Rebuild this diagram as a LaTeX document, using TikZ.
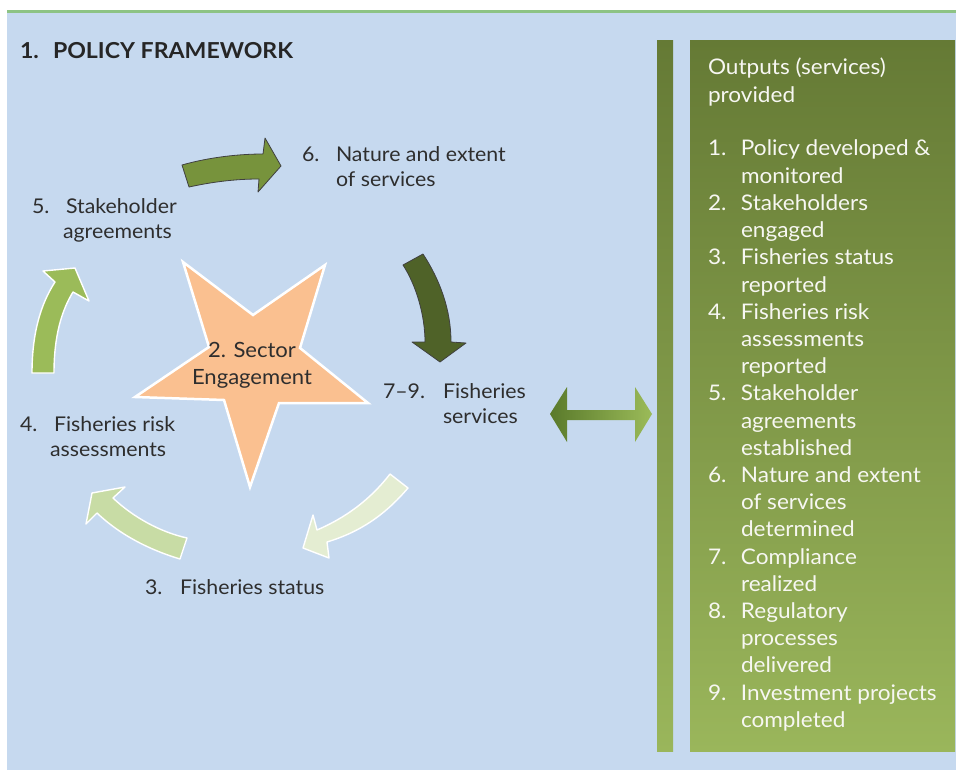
\documentclass[tikz,border=0pt]{standalone}
\usepackage{fontspec}
\setmainfont{Lato}[FakeStretch=1.05]
\definecolor{bgblue}{HTML}{C6D9EF}
\definecolor{topline}{HTML}{8DC384}
\definecolor{txt}{HTML}{2E2E2E}
\definecolor{wtxt}{HTML}{F7F7F2}
\definecolor{starfill}{HTML}{FAC090}
\definecolor{arrA}{HTML}{77933C}
\definecolor{arrB}{HTML}{4F6228}
\definecolor{arrC}{HTML}{9BBB59}
\definecolor{arrD}{HTML}{C8DCA5}
\definecolor{arrE}{HTML}{E4EDD2}
\definecolor{pantop}{HTML}{657A35}
\definecolor{panbot}{HTML}{9AB65B}
\definecolor{dblleft}{HTML}{5A7A2B}
\definecolor{dblright}{HTML}{9BBB59}
\newcommand\lfont{\fontsize{20.3}{25}\selectfont}
\newcommand\rfont{\fontsize{21.5}{27.2}\selectfont}
\newcommand\ttab[1]{\begin{tabular}[t]{@{}l@{}}#1\end{tabular}}
\tikzset{
  lbl/.style={font=\lfont, text=txt, anchor=base west, inner sep=0pt, outer sep=0pt},
  rlbl/.style={font=\rfont, text=wtxt, anchor=base west, inner sep=0pt, outer sep=0pt},
  darkarrow/.style={draw=black!75, line width=0.8pt, line join=round},
  lightarrow/.style={draw=white, line width=1.4pt, line join=round},
}
\begin{document}
\begin{tikzpicture}[x=1pt,y=-1pt]
\useasboundingbox (0,0) rectangle (957,770);
% background
\fill[white] (0,0) rectangle (957,770);
\fill[bgblue] (7,12) rectangle (956,770);
\fill[topline] (7,10) rectangle (956,13);

% heading
\node[lbl, font=\fontsize{22}{25}\selectfont\bfseries, text=black!85] (h1) at (20,59) {1.};
\node[lbl, font=\fontsize{22}{25}\selectfont\bfseries, text=black!85] (h2) at (53,59) {POLICY FRAMEWORK};

% star
\draw[fill=starfill, draw=white, line width=2.5pt, line join=miter] (183,262) -- (253,315) -- (325,265) -- (300,348) -- (368,403) -- (279,403) -- (250,487) -- (224,400) -- (135,397) -- (209,347) -- cycle;
\node[font=\fontsize{21}{27}\selectfont, text=txt, align=center, inner sep=0pt] (star) at (252,365) {2. Sector\\Engagement};

% cycle arrows
\draw[darkarrow, fill=arrA] (182,165) .. controls (210,157) and (240,154) .. (263,154) -- (265,138) -- (281,166) -- (258,192) -- (259,179) .. controls (235,179) and (212,182) .. (189,187) -- cycle;
\draw[darkarrow, fill=arrB] (403,265) .. controls (416,285) and (425,315) .. (425,342) -- (412,342) -- (440,362) -- (466,343) -- (451,342) .. controls (451,310) and (440,280) .. (423,254) -- cycle;
\draw[lightarrow, fill=arrE] (390,474) .. controls (370,500) and (345,518) .. (317,530) -- (313,515) -- (303,548) -- (329,558) -- (327,542) .. controls (360,532) and (385,515) .. (408,488) -- cycle;
\draw[lightarrow, fill=arrD] (187,538) .. controls (160,532) and (133,517) .. (113,498) -- (125,487) -- (92,493) -- (86,524) -- (97,513) .. controls (120,535) and (150,550) .. (180,559) -- cycle;
\draw[lightarrow, fill=arrC] (32,373) .. controls (32,335) and (40,305) .. (55,282) -- (43,271) -- (75,268) -- (89,301) -- (73,292) .. controls (62,310) and (54,335) .. (54,373) -- cycle;

% labels around the cycle
\node[lbl] (n6) at (302,161) {6.};
\node[lbl] (t6) at (336,161) {\ttab{Nature and extent\\of services}};
\node[lbl] (n5) at (32,213) {5.};
\node[lbl] (t5) at (66,213) {\ttab{Stakeholder\\\hspace*{-3pt}agreements}};
\node[lbl] (n79) at (383,398) {7--9.};
\node[lbl] (t79) at (443,398) {\ttab{Fisheries\\services}};
\node[lbl] (n4) at (20,431) {4.};
\node[lbl] (t4) at (54,431) {\ttab{Fisheries risk\\\hspace*{-4pt}assessments}};
\node[lbl] (n3) at (145,594) {3.};
\node[lbl] (t3) at (180,594) {Fisheries status};

% double arrow
\shade[left color=dblleft, right color=dblright] (550,414) -- (567,387) -- (567,410) -- (635,410) -- (635,387) -- (652,414) -- (635,442) -- (635,420) -- (567,420) -- (567,442) -- cycle;

% right panel
\shade[top color=pantop, bottom color=panbot] (657,41) rectangle (673,751);
\shade[top color=pantop, bottom color=panbot] (690,41) rectangle (955,751);
\node[rlbl] (outh) at (708,75) {\ttab{Outputs (services)\\provided}};
\node[rlbl] (outl) at (708,156) {\begin{tabular}[t]{@{}p{33pt}@{}l@{}}
1. & Policy developed \&\\
   & monitored\\
2. & Stakeholders\\
   & engaged\\
3. & Fisheries status\\
   & reported\\
4. & Fisheries risk\\
   & assessments\\
   & reported\\
5. & Stakeholder\\
   & agreements\\
   & established\\
6. & Nature and extent\\
   & of services\\
   & determined\\
7. & Compliance\\
   & realized\\
8. & Regulatory\\
   & processes\\
   & delivered\\
9. & Investment projects\\
   & completed
\end{tabular}};
\end{tikzpicture}
\end{document}
